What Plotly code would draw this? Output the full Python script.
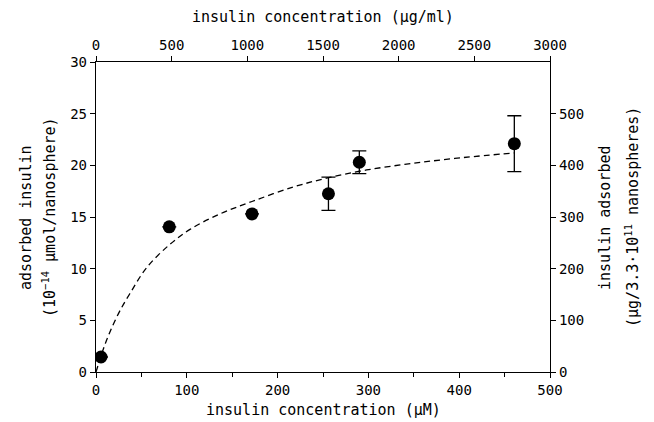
import plotly.graph_objects as go

# measured data (insulin concentration in µM, adsorbed insulin 1e-14 µmol/nanosphere)
conc_uM = [5.5, 80.7, 171.8, 256, 290, 460.7]
adsorbed = [1.45, 14.05, 15.3, 17.25, 20.3, 22.1]
err = [0, 0, 0, 1.6, 1.1, 2.7]

# dashed fitted curve
curve_x = [0, 2.5, 8, 15, 25, 37.4, 55.8, 80.7, 103.5, 136.6, 171.8, 217.3, 256, 298, 349.5, 404.5, 460.7]
curve_y = [0, 0.7, 2.2, 3.8, 5.7, 7.6, 10.1, 12.3, 13.8, 15.3, 16.5, 17.9, 18.8, 19.55, 20.2, 20.75, 21.2]

bottom_ticks = [0, 100, 200, 300, 400, 500]
top_ticks = [0, 500, 1000, 1500, 2000, 2500, 3000]
left_ticks = [0, 5, 10, 15, 20, 25, 30]
right_ticks = [0, 100, 200, 300, 400, 500]

FONT = "DejaVu Sans Mono"

fig = go.Figure()
fig.add_trace(go.Scatter(x=curve_x, y=curve_y, mode="lines",
                         line=dict(color="black", width=1.3, dash="6px,4px", shape="spline"),
                         showlegend=False, hoverinfo="skip"))
fig.add_trace(go.Scatter(x=conc_uM, y=adsorbed, mode="markers",
                         marker=dict(color="black", size=13),
                         error_y=dict(type="data", array=err, color="black", thickness=1.3, width=7),
                         showlegend=False))
# invisible traces to activate top and right axes
fig.add_trace(go.Scatter(x=[0, 3000], y=[0, 600], xaxis="x2", yaxis="y2", mode="markers",
                         marker=dict(opacity=0, size=1), showlegend=False, hoverinfo="skip"))

axis_common = dict(showline=True, linecolor="black", linewidth=1.3, ticks="outside",
                   ticklen=5, tickwidth=1.2, tickcolor="black", showgrid=False, zeroline=False,
                   automargin=False,
                   tickfont=dict(family=FONT, size=14, color="black"))

fig.update_layout(
    width=654, height=422,
    margin=dict(l=96, r=104, t=62, b=50),
    paper_bgcolor="white", plot_bgcolor="white",
    font=dict(family=FONT, size=15, color="black"),
    xaxis=dict(range=[0, 500], tickvals=bottom_ticks,
               minor=dict(dtick=50, ticks="outside", ticklen=4, tickcolor="black", tickwidth=1.2),
               **axis_common),
    xaxis2=dict(range=[0, 3000], tickvals=top_ticks, overlaying="x", side="top", **axis_common),
    yaxis=dict(range=[0, 30], tickvals=left_ticks, **axis_common),
    yaxis2=dict(range=[0, 600], tickvals=right_ticks, overlaying="y", side="right", **axis_common),
)

base = dict(xref="paper", yref="paper", xanchor="center", yanchor="middle",
            showarrow=False, font=dict(family=FONT, size=15))
fig.add_annotation(text="insulin concentration (µM)", x=0.5, y=-0.1226, **base)
fig.add_annotation(text="insulin concentration (µg/ml)", x=0.5, y=1.145, **base)
fig.add_annotation(text="adsorbed insulin", x=-0.1542, y=0.5, textangle=-90, **base)
fig.add_annotation(text="(10<sup>−14</sup> µmol/nanosphere)", x=-0.1035, y=0.5, textangle=-90, **base)
fig.add_annotation(text="insulin adsorbed", x=1.1211, y=0.5, textangle=-90, **base)
fig.add_annotation(text="(µg/3.3·10<sup>11</sup> nanospheres)", x=1.1806, y=0.5, textangle=-90, **base)

fig.write_html("out.html", config={"displayModeBar": False},
               post_script="document.body.style.margin='0';")
